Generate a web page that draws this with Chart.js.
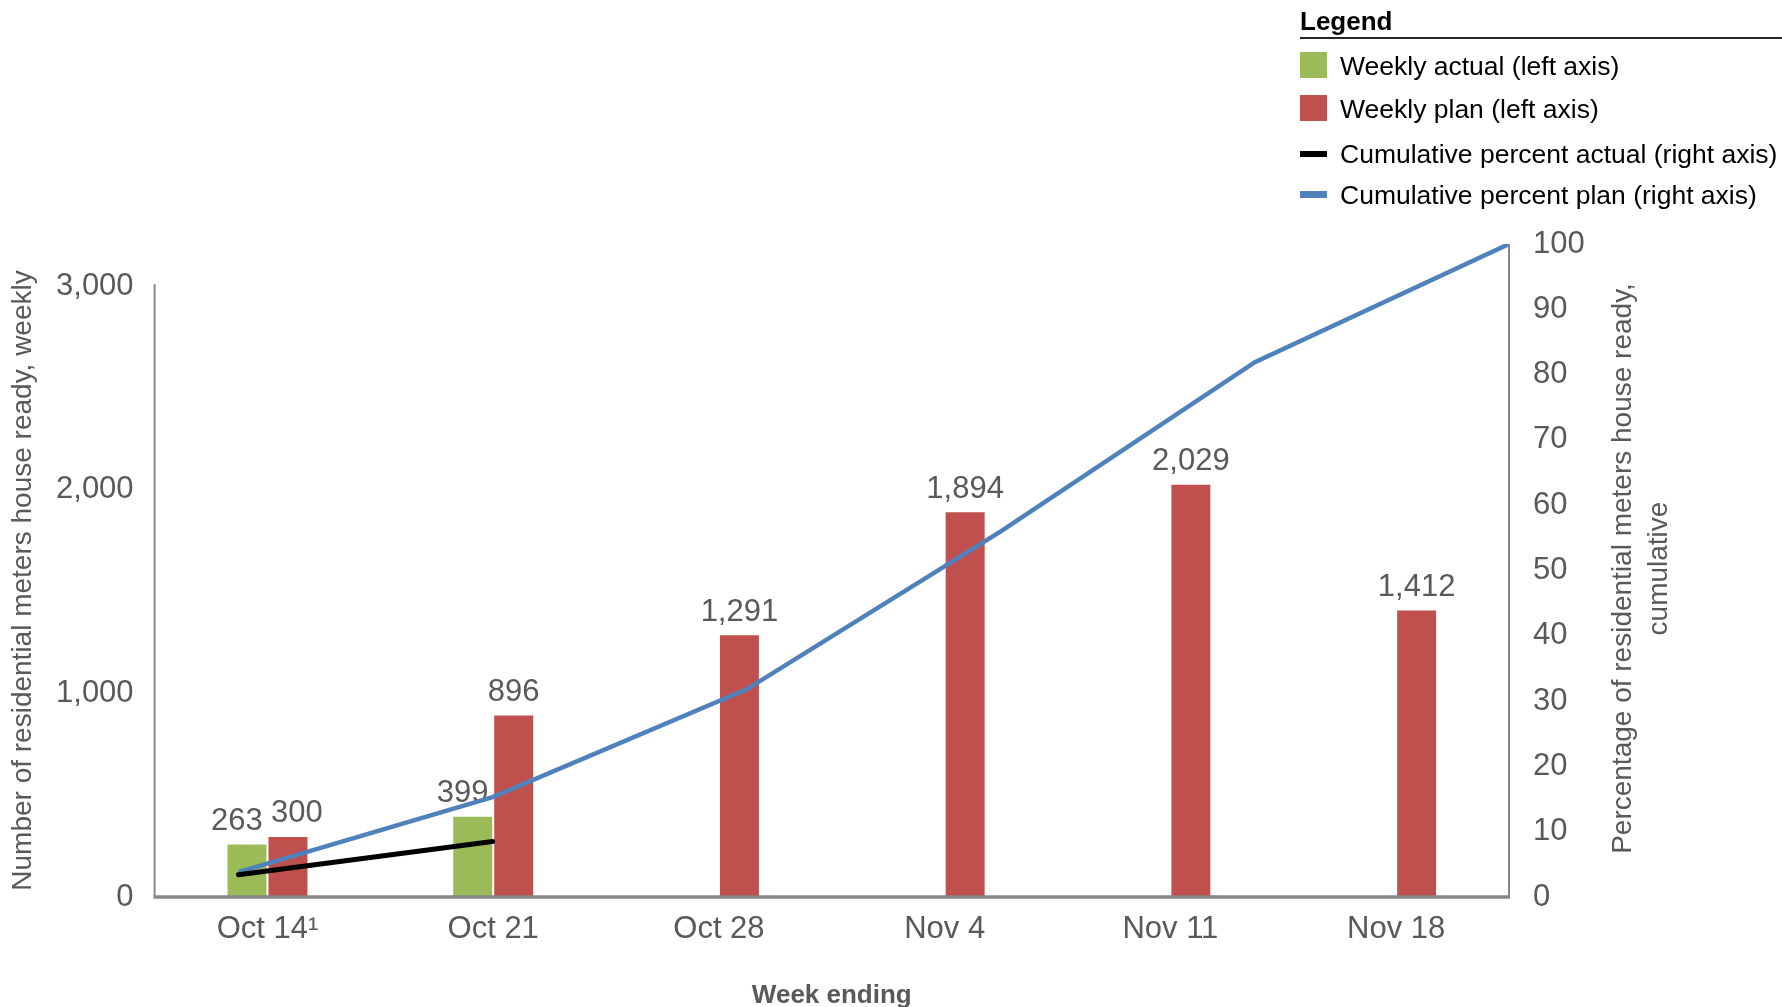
<!DOCTYPE html>
<html>
<head>
<meta charset="utf-8">
<script src="https://cdn.jsdelivr.net/npm/chart.js@4.4.1/dist/chart.umd.min.js"></script>
<style>
    body { margin: 0; background: #fff; font-family: "Liberation Sans", Arial, sans-serif; }
    #wrap { position: relative; width: 1782px; height: 1007px; }
    #legend { position: absolute; left: 1300px; top: 0; width: 482px; height: 215px; color: #000; }
    #legend .title { position: absolute; left: 0; top: 6px; font-weight: bold; font-size: 26px; }
    #legend .rule { position: absolute; left: 0; top: 37px; width: 482px; height: 2px; background: #262626; }
    #legend .item { position: absolute; left: 0; height: 30px; font-size: 26.5px; line-height: 30px; white-space: nowrap; }
    #legend .sw { position: absolute; left: 0; width: 27px; }
    #legend .txt { position: absolute; left: 40px; top: 0; }
</style>
</head>
<body>
<div id="wrap">
    <canvas id="meterChart"></canvas>
    <div id="legend">
        <div class="title">Legend</div>
        <div class="rule"></div>
        <div class="item" style="top:51px"><span class="sw" style="top:1px;height:26px;background:#9BBB59"></span><span class="txt">Weekly actual (left axis)</span></div>
        <div class="item" style="top:94px"><span class="sw" style="top:1px;height:26px;background:#C0504D"></span><span class="txt">Weekly plan (left axis)</span></div>
        <div class="item" style="top:139px"><span class="sw" style="top:12px;height:6px;background:#000"></span><span class="txt">Cumulative percent actual (right axis)</span></div>
        <div class="item" style="top:180px"><span class="sw" style="top:11px;height:7px;background:#4F81BD"></span><span class="txt">Cumulative percent plan (right axis)</span></div>
    </div>
</div>
<script>
// Weekly residential meters, house ready
const weeks = ['Oct 14\u00B9', 'Oct 21', 'Oct 28', 'Nov 4', 'Nov 11', 'Nov 18'];
const weeklyActual = [263, 399, null, null, null, null];
const weeklyPlan = [300, 896, 1291, 1894, 2029, 1412];

// Cumulative percent (right axis)
const cumActualPct = [3.4, 8.5];
const cumPlanPct = [3.8, 15.3, 31.8, 56.0, 81.9, 100];

// Tick labels
const leftTicks = [0, 1000, 2000, 3000];
const rightTicks = [0, 10, 20, 30, 40, 50, 60, 70, 80, 90, 100];

const FONT = '"Liberation Sans", Arial, sans-serif';
const GREY_TEXT = '#595959';
const AXIS_GREY = '#868686';

// Chart.js 4.5 splits bar slots per index axis of *every* dataset,
// so the lines on x2 would halve the bars. Only count bar datasets.
if (Chart.BarController.prototype._getAxis) {
    Chart.BarController.prototype._getAxis = function() {
        const ids = {};
        const first = this.getFirstScaleIdForIndexAxis();
        const chartType = this.chart.config.type;
        for (const ds of this.chart.data.datasets) {
            if ((ds.type || chartType) !== 'bar') continue;
            ids[ds.xAxisID || first] = true;
        }
        return Object.keys(ids);
    };
}

// value labels above the bars
const barLabels = {
    id: 'barLabels',
    beforeDatasetsDraw(chart) {
        const ctx = chart.ctx;
        const actualMeta = chart.getDatasetMeta(0);
        const planMeta = chart.getDatasetMeta(1);
        ctx.save();
        ctx.font = '31px ' + FONT;
        ctx.fillStyle = GREY_TEXT;
        ctx.textAlign = 'center';
        ctx.textBaseline = 'middle';
        weeks.forEach((w, i) => {
            const a = actualMeta.data[i];
            const p = planMeta.data[i];
            let close = false;
            if (weeklyActual[i] != null && weeklyPlan[i] != null) {
                close = Math.abs(a.y - p.y) < 31;
            }
            if (weeklyActual[i] != null) {
                ctx.fillText(weeklyActual[i].toLocaleString('en-US'), a.x - 10, a.y - 22);
            }
            if (weeklyPlan[i] != null) {
                ctx.fillText(weeklyPlan[i].toLocaleString('en-US'), p.x + (close ? 9 : 0), p.y - 22);
            }
        });
        ctx.restore();
    }
};

// axis lines, drawn over the bar bases
const axisLines = {
    id: 'axisLines',
    afterDatasetsDraw(chart) {
        const ctx = chart.ctx;
        const area = chart.chartArea;
        const yLeft = chart.scales.y;
        ctx.save();
        ctx.strokeStyle = AXIS_GREY;
        ctx.lineWidth = 2;
        ctx.beginPath();
        ctx.moveTo(area.left, yLeft.getPixelForValue(leftTicks[leftTicks.length - 1]) - 2);
        ctx.lineTo(area.left, area.bottom);
        ctx.moveTo(area.right, area.top);
        ctx.lineTo(area.right, area.bottom);
        ctx.stroke();
        ctx.lineWidth = 3.5;
        ctx.beginPath();
        ctx.moveTo(area.left - 1, area.bottom);
        ctx.lineTo(area.right + 1, area.bottom);
        ctx.stroke();
        ctx.restore();
    }
};

// both y titles read bottom-to-top; the right one has two lines
const axisTitles = {
    id: 'axisTitles',
    afterDraw(chart) {
        const ctx = chart.ctx;
        const area = chart.chartArea;
        const midY = (area.top + area.bottom) / 2;
        ctx.save();
        ctx.font = '28px ' + FONT;
        ctx.fillStyle = GREY_TEXT;
        ctx.textAlign = 'center';
        ctx.textBaseline = 'middle';

        ctx.save();
        ctx.translate(23, midY + 10);
        ctx.rotate(-Math.PI / 2);
        ctx.fillText('Number of residential meters house ready, weekly', 0, 0);
        ctx.restore();

        ctx.translate(area.right + 114, midY - 2);
        ctx.rotate(-Math.PI / 2);
        ctx.fillText('Percentage of residential meters house ready,', 0, 0);
        ctx.fillText('cumulative', 0, 36);
        ctx.restore();
    }
};

const ctx = document.getElementById('meterChart').getContext('2d');

new Chart(ctx, {
    type: 'bar',
    data: {
        labels: weeks,
        datasets: [
            {
                label: 'Weekly actual (left axis)',
                data: weeklyActual,
                backgroundColor: '#9BBB59',
                borderColor: '#ffffff',
                borderWidth: 1,
                categoryPercentage: 0.363,
                barPercentage: 1,
                yAxisID: 'y',
                order: 2
            },
            {
                label: 'Weekly plan (left axis)',
                data: weeklyPlan,
                backgroundColor: '#C0504D',
                borderColor: '#ffffff',
                borderWidth: 1,
                categoryPercentage: 0.363,
                barPercentage: 1,
                yAxisID: 'y',
                order: 2
            },
            {
                type: 'line',
                label: 'Cumulative percent actual (right axis)',
                data: cumActualPct.map((v, i) => ({ x: i, y: v })),
                borderColor: '#000000',
                borderWidth: 5,
                pointRadius: 0,
                borderCapStyle: 'round',
                xAxisID: 'x2',
                yAxisID: 'y1',
                order: 0
            },
            {
                type: 'line',
                label: 'Cumulative percent plan (right axis)',
                data: cumPlanPct.map((v, i) => ({ x: i, y: v })),
                borderColor: '#4F81BD',
                borderWidth: 4.5,
                pointRadius: 0,
                xAxisID: 'x2',
                yAxisID: 'y1',
                order: 1
            }
        ]
    },
    options: {
        responsive: true,
        maintainAspectRatio: false,
        animation: false,
        layout: {
            padding: { top: 244, left: 0, right: 0, bottom: 0 }
        },
        scales: {
            x: {
                offset: true,
                grid: { display: false, drawTicks: false },
                border: { display: false },
                ticks: {
                    color: GREY_TEXT,
                    padding: 14,
                    font: { family: FONT, size: 31 }
                },
                title: {
                    display: true,
                    text: 'Week ending',
                    color: GREY_TEXT,
                    padding: 0,
                    font: { family: FONT, size: 26, weight: 'bold', lineHeight: 0.85 }
                },
                afterFit(scale) { scale.height = 110; }
            },
            x2: {
                type: 'linear',
                display: false,
                offset: false,
                grid: { offset: false },
                min: -0.33,
                max: 5
            },
            y: {
                position: 'left',
                min: 0,
                max: 3207,
                grid: { display: false, drawTicks: false },
                border: { display: false },
                ticks: {
                    color: GREY_TEXT,
                    padding: 21,
                    font: { family: FONT, size: 31 }
                },
                afterBuildTicks(scale) {
                    scale.ticks = leftTicks.map(v => ({ value: v }));
                },
                afterFit(scale) { scale.width = 154.6; }
            },
            y1: {
                position: 'right',
                min: 0,
                max: 100,
                grid: { display: false, drawTicks: false },
                border: { display: false },
                ticks: {
                    color: GREY_TEXT,
                    padding: 24,
                    font: { family: FONT, size: 31 }
                },
                afterBuildTicks(scale) {
                    scale.ticks = rightTicks.map(v => ({ value: v }));
                },
                afterFit(scale) { scale.width = 273; }
            }
        },
        plugins: {
            legend: { display: false },
            tooltip: { enabled: false }
        }
    },
    plugins: [barLabels, axisLines, axisTitles]
});
</script>
</body>
</html>
